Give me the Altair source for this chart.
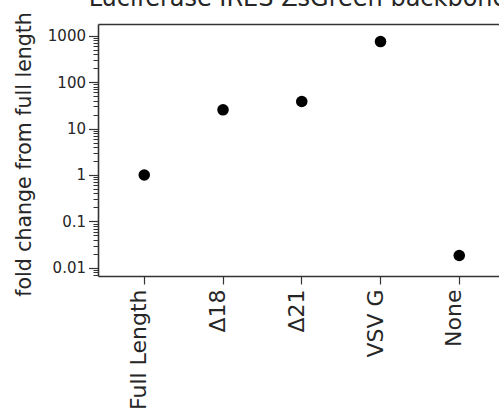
import altair as alt
import pandas as pd

categories = ["Full Length", "Δ18", "Δ21", "VSV G", "None"]
fold_change = [1.0, 25.3, 38.2, 745.0, 0.0184]
title_text = ["Luciferase IRES ZsGreen backbone"]

major_ticks = [0.01, 0.1, 1, 10, 100, 1000]
mantissas = [2, 3, 4, 5, 6, 7, 8, 9]
decades = [0.001, 0.01, 0.1, 1, 10, 100, 1000]
y_domain = [0.00667, 1784]
minor_ticks = [m * d for d in decades for m in mantissas if y_domain[0] <= m * d <= y_domain[1]]

df = pd.DataFrame({"construct": categories, "fold": fold_change})
title_df = pd.DataFrame({"t": title_text})

TXT = "#262626"
LINE = "#333333"
FONT = "DejaVu Sans"

xscale = alt.Scale(type="band", paddingInner=0, paddingOuter=0.046, align=0.95)
yscale = alt.Scale(type="log", domain=y_domain, nice=False)

points = alt.Chart(df).mark_circle(size=133, color="black", opacity=1).encode(
    x=alt.X("construct:N", sort=categories, scale=xscale,
            axis=alt.Axis(orient="bottom", title=None, labelAngle=270, labelAlign="right",
                          labelBaseline="alphabetic", labelOffset=2, labelPadding=5,
                          labelFontSize=22, labelColor=TXT, tickSize=8, tickWidth=1.2,
                          tickColor=LINE, domainColor=LINE, domainWidth=1.6,
                          bandPosition=0.5, grid=False, labelFont=FONT)),
    y=alt.Y("fold:Q", scale=yscale,
            axis=alt.Axis(orient="left", values=major_ticks, format="~g",
                          title="fold change from full length", titleFontSize=20.5,
                          titleFontWeight="normal", titleColor=TXT, titleAngle=270,
                          titleAlign="center", titleBaseline="alphabetic",
                          titleX=-68, titleY=130, labelFontSize=15, labelColor=TXT,
                          labelPadding=3, tickSize=9.5, tickWidth=1.2, tickColor=LINE,
                          domainColor=LINE, domainWidth=1.6, grid=False,
                          labelFont=FONT, titleFont=FONT)),
)

frame = alt.Chart(df).mark_circle(size=133, opacity=0).encode(
    x=alt.X("construct:N", sort=categories, scale=xscale,
            axis=alt.Axis(orient="top", title=None, labels=False, ticks=False,
                          domainColor=LINE, domainWidth=1.6, grid=False)),
    y=alt.Y("fold:Q", scale=yscale,
            axis=alt.Axis(orient="left", values=minor_ticks, title=None, labels=False,
                          domain=False, tickSize=5, tickWidth=1, tickColor=LINE, grid=False)),
)

title_mark = alt.Chart(title_df).mark_text(
    fontSize=24, font=FONT, color=TXT, align="center", baseline="alphabetic"
).encode(
    text="t:N",
    x=alt.value(200),
    y=alt.value(-18.5),
)

chart = alt.layer(points, frame, title_mark).resolve_axis(x="independent", y="independent").properties(
    width=401,
    height=252,
    autosize=alt.AutoSizeParams(type="none"),
    padding={"left": 98, "top": 24, "right": 0, "bottom": 136},
).configure(font=FONT, view=alt.ViewConfig(stroke=None))

chart.save("out.html", embed_options={"renderer": "svg", "actions": False})
